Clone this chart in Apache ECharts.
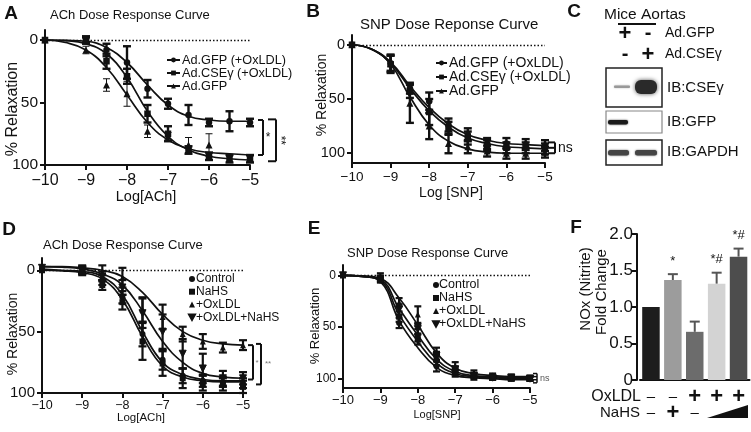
<!DOCTYPE html>
<html><head><meta charset="utf-8">
<script src="https://cdn.jsdelivr.net/npm/echarts@6.0.0/dist/echarts.min.js"></script>
<style>html,body{margin:0;padding:0;background:#fff}#c{width:751px;height:432px}</style>
</head><body><div id="c"></div>
<script>
// ---------- DATA ----------
const doses = [-10, -9, -8.5, -8, -7.5, -7, -6.5, -6, -5.5, -5];
const fitX = [-10, -9.5, -9, -8.5, -8, -7.5, -7, -6.5, -6, -5.5, -5];
const xTicks = [-10, -9, -8, -7, -6, -5];
const yTicks = [0, 50, 100];

// Panel A: ACh, adenovirus groups
const aNames = ['Ad.GFP (+OxLDL)', 'Ad.CSEγ (+OxLDL)', 'Ad.GFP'];
const aGfpOx = [0, 0, 8, 18, 39, 51, 60, 66, 65, 66];
const aGfpOxErr = [0, 2, 5, 13, 7, 4, 8, 3, 8, 3];
const aCseOx = [0, 0, 17, 29, 59, 75, 88, 93, 95, 95];
const aCseOxErr = [0, 3, 6, 6, 7, 6, 3, 3, 3, 3];
const aGfp = [0, 8, 36, 43, 73, 77, 84, 84, 95, 95];
const aGfpErr = [0, 3, 5, 10, 5, 3, 6, 9, 2, 2];
const aFitGfpOx = [0, 0.3, 1, 6, 18, 36, 52, 61, 64, 65, 65];
const aFitCseOx = [0, 0.5, 3, 11, 30, 57, 77, 88, 93, 95, 96];
const aFitGfp = [0, 2, 8, 22, 44, 66, 80, 87, 90, 91, 92];
const aBracketArms = [[64, 92], [63.5, 97]];
const aBracketLabels = ['*', '**'];

// Panel B: SNP, adenovirus groups
const bNames = ['Ad.GFP (+OxLDL)', 'Ad.CSEγ (+OxLDL)', 'Ad.GFP'];
const bGfpOx = [0, 17, 40, 52, 74, 83, 91, 91, 92, 93];
const bGfpOxErr = [0, 8, 5, 8, 6, 6, 5, 5, 5, 5];
const bCseOx = [0, 18, 43, 62, 77, 86, 93, 95, 95, 96];
const bCseOxErr = [0, 8, 6, 12, 6, 6, 5, 5, 5, 5];
const bGfp = [0, 17, 54, 75, 91, 94, 98, 100, 100, 99];
const bGfpErr = [0, 7, 18, 12, 9, 6, 5, 5, 5, 5];
const bFitGfpOx = [0, 4, 16, 38, 58, 73, 83, 88, 91, 92, 93];
const bFitCseOx = [0, 4, 17, 40, 61, 76, 86, 91, 94, 95, 96];
const bFitGfp = [0, 4, 18, 48, 74, 89, 96, 99, 100, 100, 100];
const bBracketArms = [[90, 95, 100]];
const bBracketLabels = ['ns'];

// Panel D: ACh, NaHS groups
const dNames = ['Control', 'NaHS', '+OxLDL', '+OxLDL+NaHS'];
const dCtrl = [-1, 0, 8, 22, 52, 73, 86, 90, 91, 92];
const dCtrlErr = [0, 3, 4, 5, 10, 8, 6, 5, 4, 4];
const dNahs = [0, 1, 12, 26, 58, 76, 88, 92, 93, 95];
const dNahsErr = [0, 3, 4, 6, 15, 10, 8, 6, 5, 5];
const dOx = [-2, -1, 2, 6, 32, 38, 52, 58, 63, 61];
const dOxErr = [0, 3, 6, 8, 10, 10, 6, 6, 4, 4];
const dOxNahs = [-2, 0, 5, 14, 35, 50, 68, 80, 88, 88];
const dOxNahsErr = [0, 3, 4, 6, 12, 14, 12, 12, 6, 5];
const dFitCtrl = [-1, 0, 1, 5, 20, 50, 75, 85, 89, 90, 90];
const dFitNahs = [0, 0.5, 2, 7, 24, 54, 78, 87, 90, 91, 91];
const dFitOx = [-3, -3, -2, 0, 5, 18, 36, 50, 57, 60, 61];
const dFitOxNahs = [-3, -2.5, -1, 3, 12, 33, 58, 75, 84, 87, 88];
const dBracketArms = [[61, 89], [60, 93]];
const dBracketLabels = ['*', '**'];

// Panel E: SNP, NaHS groups
const eNames = ['Control', 'NaHS', '+OxLDL', '+OxLDL+NaHS'];
const eCtrl = [0, 5, 46, 62, 88, 95, 98, 99, 99, 100];
const eCtrlErr = [0, 2, 5, 5, 5, 3, 3, 2, 2, 2];
const eNahs = [0, 4, 40, 58, 82, 93, 97, 99, 100, 100];
const eNahsErr = [0, 2, 5, 6, 5, 3, 2, 2, 2, 2];
const eOx = [0, 1, 26, 38, 74, 88, 95, 97, 98, 99];
const eOxErr = [0, 3, 4, 8, 4, 4, 3, 2, 2, 2];
const eOxNahs = [0, 3, 33, 52, 78, 91, 97, 99, 99, 100];
const eOxNahsErr = [0, 2, 5, 5, 4, 3, 2, 2, 2, 2];
const eFitCtrl = [0, 1, 6, 44, 70, 89, 97, 99, 100, 101, 101];
const eFitNahs = [0, 1, 5, 38, 64, 85, 95, 98, 99, 100, 100];
const eFitOx = [0, 0.5, 3, 22, 48, 75, 90, 95, 97, 98, 98];
const eFitOxNahs = [0, 1, 4, 32, 58, 81, 93, 97, 98, 99, 99];
const eBracketArms = [[95, 98, 101, 104]];
const eBracketLabels = ['ns'];

// Panel F: NOx bars
const fGroups = ['Control', 'NaHS', 'OxLDL', 'OxLDL+NaHS low', 'OxLDL+NaHS high'];
const fOxSigns = ['–', '–', '+', '+', '+'];
const fNahsSigns = ['–', '+', '–', '', ''];
const fValues = [1.0, 1.37, 0.66, 1.32, 1.69];
const fErr = [0, 0.08, 0.14, 0.15, 0.11];
const fAnnot = ['', '*', '', '*#', '*#'];

// ---------- STYLE ----------
const FF = "'Liberation Sans', Arial, Helvetica, sans-serif";
const INK = '#111';
const fColors = ['#1d1d1d', '#9c9c9c', '#6c6c6c', '#d3d3d3', '#4d4d4d'];

const chart = echarts.init(document.getElementById('c'), null, {renderer: 'canvas'});

const grids = [
  {left: 45, top: 30, width: 205, height: 135},   // A
  {left: 352, top: 35, width: 193, height: 128},  // B
  {left: 42, top: 258, width: 201, height: 135},  // D
  {left: 343, top: 265, width: 187, height: 123}, // E
  {left: 640, top: 234, width: 109.5, height: 146} // F
];
const yRanges = [[-8, 100], [-9, 109], [-10, 100], [-10, 109]];
const tickFont = [{x: 16, y: 15.5}, {x: 13.5, y: 14.5}, {x: 12.5, y: 15}, {x: 13, y: 12}];
const xMargin = [8, 7, 6, 6];

function valX(gi) {
  return {type: 'value', gridIndex: gi, min: xTicks[0], max: xTicks[xTicks.length - 1], interval: 1,
    axisLine: {onZero: false, lineStyle: {color: INK, width: 2}},
    axisTick: {length: 5, lineStyle: {color: INK, width: 2}},
    axisLabel: {fontSize: tickFont[gi].x, color: INK, margin: xMargin[gi], fontFamily: FF,
      formatter: v => String(v).replace('-', '\u2212')},
    splitLine: {show: false}};
}
function valY(gi) {
  return {type: 'value', gridIndex: gi, inverse: true, min: yRanges[gi][0], max: yRanges[gi][1],
    axisLine: {show: true, onZero: false, lineStyle: {color: INK, width: 2}},
    axisTick: {show: true, length: 5, customValues: yTicks, lineStyle: {color: INK, width: 2}},
    axisLabel: {customValues: yTicks, fontSize: tickFont[gi].y, color: INK, margin: 7, fontFamily: FF},
    splitLine: {show: false}};
}

const zeroLine = {silent: true, symbol: 'none', label: {show: false},
  lineStyle: {type: [1.5, 2], color: INK, width: 1.3}, data: [{yAxis: 0}]};

function curve(gi, name, ys, symbol, withZero) {
  const s = {type: 'line', name, xAxisIndex: gi, yAxisIndex: gi,
    data: fitX.map((x, i) => [x, ys[i]]), smooth: 0.45, showSymbol: false,
    symbol: symbol, symbolSize: 6, lineStyle: {color: INK, width: 1.7}, itemStyle: {color: INK},
    silent: true, z: 2, animation: false};
  if (withZero) s.markLine = zeroLine;
  return s;
}
function points(gi, name, ys, symbol, size, extraStyle) {
  return {type: 'scatter', name, xAxisIndex: gi, yAxisIndex: gi,
    data: doses.map((x, i) => [x, ys[i]]), symbol, symbolSize: size,
    itemStyle: Object.assign({color: INK, opacity: 1}, extraStyle || {}), silent: true, z: 4};
}
function errBars(gi, ys, errs, lw, cap) {
  return {type: 'custom', xAxisIndex: gi, yAxisIndex: gi, silent: true, z: 3,
    data: doses.map((x, i) => [x, ys[i], errs[i]]),
    encode: {x: 0, y: 1},
    renderItem: function (params, api) {
      const x = api.value(0), y = api.value(1), e = api.value(2);
      if (!e) return {type: 'group', children: []};
      const p1 = api.coord([x, y - e]), p2 = api.coord([x, y + e]);
      const st = {stroke: INK, lineWidth: lw};
      return {type: 'group', children: [
        {type: 'line', shape: {x1: p1[0], y1: p1[1], x2: p2[0], y2: p2[1]}, style: st},
        {type: 'line', shape: {x1: p1[0] - cap, y1: p1[1], x2: p1[0] + cap, y2: p1[1]}, style: st},
        {type: 'line', shape: {x1: p2[0] - cap, y1: p2[1], x2: p2[0] + cap, y2: p2[1]}, style: st}
      ]};
    }};
}
function brackets(gi, armsList, labels, cfg) {
  const xMax = xTicks[xTicks.length - 1];
  return {type: 'custom', xAxisIndex: gi, yAxisIndex: gi, silent: true, clip: false, z: 5,
    data: armsList.map(a => [xMax, a[0], a[a.length - 1]]),
    encode: {x: 0, y: 1},
    renderItem: function (params, api) {
      const i = params.dataIndex, c = cfg[i];
      const pts = armsList[i].map(v => api.coord([xMax, v]));
      const x0 = pts[0][0] + c.dx, x1 = x0 + c.arm;
      const st = {stroke: INK, lineWidth: c.lw};
      const ch = [{type: 'line', shape: {x1: x1, y1: pts[0][1], x2: x1, y2: pts[pts.length - 1][1]}, style: st}];
      pts.forEach(p => ch.push({type: 'line', shape: {x1: x0, y1: p[1], x2: x1, y2: p[1]}, style: st}));
      const my = (pts[0][1] + pts[pts.length - 1][1]) / 2;
      ch.push({type: 'text', x: x1 + c.ldx, y: my + (c.ldy || 0), rotation: c.rot || 0,
        style: {text: labels[i], fontSize: c.fs, fontFamily: FF, fill: c.color || INK,
          align: c.align || 'center', verticalAlign: 'middle', textAlign: c.align || 'center', textVerticalAlign: 'middle'}});
      return {type: 'group', children: ch};
    }};
}

const invTri = 'path://M0,0 L10,0 L5,9 Z';

const series = [
  // A
  curve(0, aNames[0], aFitGfpOx, 'circle', true),
  curve(0, aNames[1], aFitCseOx, 'rect', false),
  curve(0, aNames[2], aFitGfp, 'triangle', false),
  errBars(0, aGfpOx, aGfpOxErr, 2.4, 4),
  errBars(0, aCseOx, aCseOxErr, 2.4, 4),
  errBars(0, aGfp, aGfpErr, 1, 3.5),
  points(0, 'A1', aGfpOx, 'circle', 6.5),
  points(0, 'A2', aCseOx, 'rect', 6.5),
  points(0, 'A3', aGfp, 'triangle', 7),
  brackets(0, aBracketArms, aBracketLabels, [
    {dx: 8, arm: 5, lw: 2, ldx: 5, fs: 12},
    {dx: 18, arm: 8, lw: 2, ldx: 4, fs: 12, rot: -Math.PI / 2}]),
  // B
  curve(1, bNames[0], bFitGfpOx, 'circle', true),
  curve(1, bNames[1], bFitCseOx, 'rect', false),
  curve(1, bNames[2], bFitGfp, 'triangle', false),
  errBars(1, bGfpOx, bGfpOxErr, 2.4, 4),
  errBars(1, bCseOx, bCseOxErr, 2.4, 4),
  errBars(1, bGfp, bGfpErr, 2.4, 4),
  points(1, 'B1', bGfpOx, 'circle', 6.5),
  points(1, 'B2', bCseOx, 'rect', 6.5),
  points(1, 'B3', bGfp, 'triangle', 7),
  brackets(1, bBracketArms, bBracketLabels, [
    {dx: 3, arm: 7, lw: 2, ldx: 3, fs: 14, align: 'left'}]),
  // D
  curve(2, 'dc1', dFitCtrl, 'none', true),
  curve(2, 'dc2', dFitNahs, 'none', false),
  curve(2, 'dc3', dFitOx, 'none', false),
  curve(2, 'dc4', dFitOxNahs, 'none', false),
  errBars(2, dCtrl, dCtrlErr, 2.2, 4),
  errBars(2, dNahs, dNahsErr, 2.2, 4),
  errBars(2, dOx, dOxErr, 2.2, 4),
  errBars(2, dOxNahs, dOxNahsErr, 2.2, 4),
  points(2, dNames[0], dCtrl, 'circle', 6),
  points(2, dNames[1], dNahs, 'rect', 6),
  points(2, dNames[2], dOx, 'triangle', 6),
  points(2, dNames[3], dOxNahs, invTri, 7, {borderColor: INK, borderWidth: 1}),
  brackets(2, dBracketArms, dBracketLabels, [
    {dx: 5, arm: 5, lw: 2, ldx: 4, fs: 8, color: '#777'},
    {dx: 13, arm: 5, lw: 2, ldx: 7, fs: 8, color: '#777'}]),
  // E
  curve(3, 'ec1', eFitCtrl, 'none', true),
  curve(3, 'ec2', eFitNahs, 'none', false),
  curve(3, 'ec3', eFitOx, 'none', false),
  curve(3, 'ec4', eFitOxNahs, 'none', false),
  errBars(3, eCtrl, eCtrlErr, 2.2, 3.5),
  errBars(3, eNahs, eNahsErr, 2.2, 3.5),
  errBars(3, eOx, eOxErr, 2.2, 3.5),
  errBars(3, eOxNahs, eOxNahsErr, 2.2, 3.5),
  points(3, eNames[0], eCtrl, 'circle', 6),
  points(3, eNames[1], eNahs, 'rect', 6),
  points(3, eNames[2], eOx, 'triangle', 6),
  points(3, eNames[3], eOxNahs, invTri, 7, {borderColor: INK, borderWidth: 1}),
  brackets(3, eBracketArms, eBracketLabels, [
    {dx: 3, arm: 4, lw: 1.5, ldx: 3, fs: 9, align: 'left', color: '#555'}]),
  // F
  {type: 'bar', xAxisIndex: 4, yAxisIndex: 4, barWidth: 17.5, silent: true,
    data: fValues.map((v, i) => ({value: v, itemStyle: {color: fColors[i]}}))},
  {type: 'custom', xAxisIndex: 4, yAxisIndex: 4, silent: true, z: 5,
    data: fValues.map((v, i) => [i, v, fErr[i]]), encode: {x: 0, y: 1},
    renderItem: function (params, api) {
      const i = api.value(0), v = api.value(1), e = api.value(2);
      const p0 = api.coord([i, v]), p1 = api.coord([i, v + e]);
      const st = {stroke: '#555', lineWidth: 2};
      const ch = [];
      if (e) {
        ch.push({type: 'line', shape: {x1: p0[0], y1: p0[1], x2: p1[0], y2: p1[1]}, style: st});
        ch.push({type: 'line', shape: {x1: p1[0] - 5, y1: p1[1], x2: p1[0] + 5, y2: p1[1]}, style: st});
      }
      if (fAnnot[params.dataIndex]) {
        ch.push({type: 'text', x: p1[0], y: p1[1] - 13, style: {text: fAnnot[params.dataIndex], fontSize: 13,
          fontFamily: FF, fill: INK, align: 'center', verticalAlign: 'middle', textAlign: 'center', textVerticalAlign: 'middle'}});
      }
      return {type: 'group', children: ch};
    }}
];

function T(text, x, y, size, o) {
  o = o || {};
  return {type: 'text', x: x, y: y, rotation: o.rot || 0, silent: true, z: 10,
    style: {text: text, fontSize: size, fontFamily: FF, fontWeight: o.bold ? 'bold' : 'normal',
      fill: o.color || INK, textAlign: o.align || 'center', textVerticalAlign: 'middle',
      align: o.align || 'center', verticalAlign: 'middle'}};
}
function R(x, y, w, h, style) { return {type: 'rect', shape: {x, y, width: w, height: h, r: style.r || 0}, style, silent: true, z: 10}; }
function L(x1, y1, x2, y2, w) { return {type: 'line', shape: {x1, y1, x2, y2}, style: {stroke: INK, lineWidth: w}, silent: true, z: 10}; }

const graphics = [
  // panel letters
  T('A', 11, 14, 19, {bold: true}), T('B', 313, 12, 19, {bold: true}), T('C', 574, 12, 19, {bold: true}),
  T('D', 9, 230, 19, {bold: true}), T('E', 314, 229, 19, {bold: true}), T('F', 576, 228, 19, {bold: true}),
  // titles
  T('ACh Dose Response Curve', 50, 15, 13, {align: 'left'}),
  T('SNP Dose Reponse Curve', 360, 25, 15, {align: 'left'}),
  T('ACh Dose Response Curve', 43, 245, 13, {align: 'left'}),
  T('SNP Dose Response Curve', 347, 253, 13, {align: 'left'}),
  // axis titles
  T('% Relaxation', 13, 109, 16, {rot: Math.PI / 2}),
  T('Log[ACh]', 146, 197, 14.5),
  T('% Relaxation', 322, 95, 14, {rot: Math.PI / 2}),
  T('Log [SNP]', 451, 193, 14),
  T('% Relaxation', 13, 334, 14, {rot: Math.PI / 2}),
  T('Log[ACh]', 141, 418, 11.5),
  T('% Relaxation', 315, 326, 13, {rot: Math.PI / 2}),
  T('Log[SNP]', 437, 415, 11),
  T('NOx (Nitrite)', 586, 289, 15, {rot: Math.PI / 2}),
  T('Fold Change', 602, 292, 15, {rot: Math.PI / 2}),
  // F row labels + wedge
  T('OxLDL', 641, 397, 16, {align: 'right'}),
  T('NaHS', 640, 413, 15, {align: 'right'}),
  {type: 'polygon', shape: {points: [[707, 418], [748, 418], [748, 405]]}, style: {fill: INK}, silent: true, z: 10},
  // Panel C blot
  T('Mice Aortas', 604, 15, 15.5, {align: 'left'}),
  L(618, 24, 656, 24, 2),
  T('+', 625, 34, 22, {bold: true}), T('-', 648, 33, 20, {bold: true}),
  T('-', 625, 54, 20, {bold: true}), T('+', 648, 55, 22, {bold: true}),
  T('Ad.GFP', 665, 33, 14, {align: 'left'}),
  T('Ad.CSEγ', 665, 54, 14, {align: 'left'}),
  R(606, 68, 56, 39, {fill: '#fff', stroke: '#222', lineWidth: 1.5}),
  R(606, 111, 56, 22, {fill: '#fff', stroke: '#888', lineWidth: 1.2}),
  R(606, 140, 56, 25, {fill: '#fff', stroke: '#222', lineWidth: 1.5}),
  R(614, 85.5, 16, 2.5, {fill: '#999', r: 1, shadowBlur: 2, shadowColor: '#bbb'}),
  R(635, 80, 22, 14, {fill: '#2a2a2a', r: 6, shadowBlur: 4, shadowColor: '#555'}),
  R(608, 120, 20, 4.5, {fill: '#1a1a1a', r: 2, shadowBlur: 2, shadowColor: '#444'}),
  R(608, 150, 21, 5.5, {fill: '#444', r: 2.5, shadowBlur: 2, shadowColor: '#666'}),
  R(635, 150, 22, 5.5, {fill: '#444', r: 2.5, shadowBlur: 2, shadowColor: '#666'}),
  T('IB:CSEγ', 667, 88, 15, {align: 'left'}),
  T('IB:GFP', 667, 122, 15, {align: 'left'}),
  T('IB:GAPDH', 667, 152, 15, {align: 'left'})
];

const option = {
  animation: false,
  textStyle: {fontFamily: FF, color: INK},
  grid: grids.map(g => Object.assign({containLabel: false}, g)),
  xAxis: [valX(0), valX(1), valX(2), valX(3),
    {type: 'category', gridIndex: 4, data: fGroups,
      axisLine: {lineStyle: {color: INK, width: 2}}, axisTick: {show: false},
      axisLabel: {interval: 0, margin: 9, color: INK,
        formatter: function (v, i) {
          const a = fOxSigns[i], b = fNahsSigns[i];
          return (a === '+' ? '{p|+}' : '{m|' + a + '}') + '\n' + (b === '+' ? '{p|+}' : (b ? '{m|' + b + '}' : '{m| }'));
        },
        rich: {p: {fontSize: 22, fontWeight: 'bold', lineHeight: 16, fontFamily: FF, color: INK},
               m: {fontSize: 15, lineHeight: 16, fontFamily: FF, color: INK}}}}],
  yAxis: [valY(0), valY(1), valY(2), valY(3),
    {type: 'value', gridIndex: 4, min: 0, max: 2, interval: 0.5, offset: 3,
      axisLine: {show: true, lineStyle: {color: INK, width: 2}},
      axisTick: {show: true, length: 5, lineStyle: {color: INK, width: 2}},
      axisLabel: {fontSize: 17, color: INK, margin: 4, formatter: v => (v === 0 ? '0' : v.toFixed(1))},
      splitLine: {show: false}}],
  legend: [
    {left: 166, top: 53.5, orient: 'vertical', padding: 0, itemGap: 0, itemWidth: 13, itemHeight: 6,
      selectedMode: false, data: aNames.map(n => ({name: n})), textStyle: {fontSize: 12.7, lineHeight: 12.7, color: INK, padding: [0, 0, 0, -3]}},
    {left: 435, top: 56, orient: 'vertical', padding: 0, itemGap: 0, itemWidth: 11, itemHeight: 6,
      selectedMode: false, data: bNames.map(n => ({name: n})), textStyle: {fontSize: 14, lineHeight: 13, color: INK, padding: [0, 0, 0, -3]}},
    {left: 188, top: 272.5, orient: 'vertical', padding: 0, itemGap: 0, itemWidth: 6, itemHeight: 6,
      selectedMode: false, data: dNames, textStyle: {fontSize: 12, lineHeight: 12.8, color: INK, padding: [0, 0, 0, -4]}},
    {left: 432, top: 278.5, orient: 'vertical', padding: 0, itemGap: 0, itemWidth: 6, itemHeight: 6,
      selectedMode: false, data: eNames, textStyle: {fontSize: 12.5, lineHeight: 12.8, color: INK, padding: [0, 0, 0, -5]}}
  ],
  series: series,
  graphic: graphics
};
chart.setOption(option);
</script>
</body></html>
